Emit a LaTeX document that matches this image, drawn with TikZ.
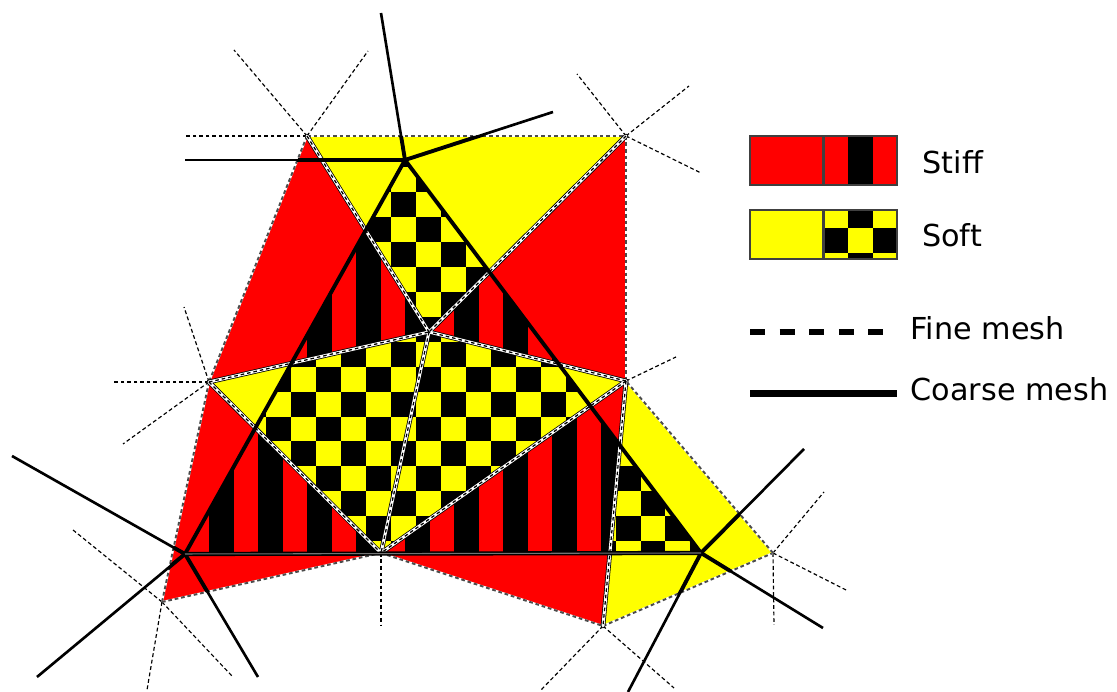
\documentclass[tikz,border=0pt]{standalone}
\usepackage{fontspec}
\setmainfont{DejaVu Sans}
\definecolor{stiffred}{RGB}{255,0,0}
\definecolor{softyellow}{RGB}{255,255,0}
\newcommand{\stripes}{%
  \foreach \i in {0,...,8} {
    \fill[black] (209.3+49*\i,150) rectangle +(24.6,420);
  }
}
\newcommand{\checks}[4]{%
  \foreach \i in {#1,...,#2} {
    \foreach \j in {#3,...,#4} {
      \pgfmathtruncatemacro{\k}{\i+\j}
      \ifodd\k\else
        \fill[black] (391+24.95*\i,192+24.95*\j) rectangle +(24.95,24.95);
      \fi
    }
  }
}
\newcommand{\stiffcells}{(A)--(C)--(E)--cycle (B)--(D)--(E)--cycle (C)--(G)--(F)--cycle (F)--(H)--(D)--cycle}
\newcommand{\softcells}{(A)--(B)--(E)--cycle (C)--(E)--(F)--cycle (E)--(D)--(F)--cycle (D)--(I)--(H)--cycle}
\newcommand{\coarserays}{%
  \foreach \u/\v in {P/p1,P/p2,P/p3,Q/q1,Q/q2,Q/q3,R/r1,R/r2,R/r3} {
    \draw (\u)--(\v);
  }
}
\begin{document}
\begin{tikzpicture}[x=0.01cm, y=-0.01cm,
    stiff/.style={fill=stiffred},
    soft/.style={fill=softyellow},
    innerblack/.style={line width=1.3pt, black, line cap=round},
    innerwhite/.style={line width=0.85pt, white, line cap=round},
    innerdash/.style={line width=0.36pt, black, dash pattern=on 1pt off 0.85pt},
    outerwhite/.style={line width=0.55pt, white},
    outeredge/.style={line width=0.55pt, black!70, dash pattern=on 1.05pt off 0.8pt},
    fineray/.style={line width=0.33pt, black, dash pattern=on 1.1pt off 0.75pt},
    coarseray/.style={line width=0.75pt, black},
    coarsein/.style={line width=1.1pt, black},
    legendbox/.style={draw=black!75, line width=0.35pt},
    legendtext/.style={anchor=base west, inner sep=0pt, font=\fontsize{8.6pt}{10pt}\selectfont}]
    \useasboundingbox (0,0) rectangle (1117,692);
    % fine mesh
    \foreach \n/\x/\y in {A/307/136,B/626/136,C/209/382,D/626/381,E/429/332,F/381/553,G/162/602,H/603/626,I/773/553} {
        \coordinate (\n) at (\x,\y);
    }
    % coarse mesh
    \foreach \n/\x/\y in {P/405/160,Q/185/554,R/701/553,p1/381/13,p2/553/112,p3/185/160,q1/12/456,q2/37/677,q3/258/677,r1/804/449,r2/823/628,r3/628/692} {
        \coordinate (\n) at (\x,\y);
    }
    % free ends of the fine mesh
    \foreach \n/\x/\y in {a1/185/136,a2/234/50,a3/368/51,b1/577/74,b2/689/86,b3/701/173,c1/113/382,c2/184/307,c3/123/444,d1/676/357,f1/381/625,g1/73/530,g2/232/676,g3/147/690,h1/541/690,h2/674/688,i1/824/492,i2/848/591,i3/774/625} {
        \coordinate (\n) at (\x,\y);
    }
    \foreach \u/\v in {A/a1,A/a2,A/a3,B/b1,B/b2,B/b3,C/c1,C/c2,C/c3,D/d1,F/f1,G/g1,G/g2,G/g3,H/h1,H/h2,I/i1,I/i2,I/i3} {
        \draw[fineray] (\u)--(\v);
    }
    \fill[stiff] \stiffcells;
    \fill[soft] \softcells;
    % patterns inside the coarse triangle
    \begin{scope}
        \clip (P)--(Q)--(R)--cycle;
        \begin{scope}
            \clip \stiffcells;
            \stripes
        \end{scope}
        \begin{scope}
            \clip \softcells;
            \checks{-8}{12}{-2}{15}
        \end{scope}
    \end{scope}
    % outer edges
    \foreach \u/\v in {A/B,B/D,A/C,C/G,G/F,F/H,H/I,I/D} {
        \draw[outerwhite] (\u)--(\v);
        \draw[outeredge] (\u)--(\v);
    }
    % inner edges
    \foreach \u/\v in {A/E,B/E,C/E,D/E,E/F,C/F,D/F,D/H} {
        \draw[innerblack] (\u)--(\v);
    }
    \foreach \u/\v in {A/E,B/E,C/E,D/E,E/F,C/F,D/F,D/H} {
        \draw[innerwhite] (\u)--(\v);
    }
    \foreach \u/\v in {A/E,B/E,C/E,D/E,E/F,C/F,D/F,D/H} {
        \draw[innerdash] (\u)--(\v);
    }
    % coarse edges
    \begin{scope}[coarseray]
        \coarserays
    \end{scope}
    \begin{scope}[coarsein]
        \clip \stiffcells \softcells;
        \coarserays
    \end{scope}
    \draw[coarsein] (P)--(Q);
    \draw[coarsein] (P)--(R);
    \draw[line width=1.2pt, black] (Q)--(R);
    \draw[line width=0.3pt, black!55] (Q)--(R);
    % legend
    \fill[stiff] (750,136) rectangle (823,185);
    \draw[legendbox] (750,136) rectangle (823,185);
    \fill[stiff] (824,136) rectangle (897,185);
    \fill[black] (848,136) rectangle (873,185);
    \draw[legendbox] (824,136) rectangle (897,185);
    \fill[soft] (750,210) rectangle (823,259);
    \draw[legendbox] (750,210) rectangle (823,259);
    \fill[soft] (824,210) rectangle (897,259);
    \fill[black] (848,210) rectangle (873,228);
    \fill[black] (824,228) rectangle (848,253);
    \fill[black] (873,228) rectangle (897,253);
    \fill[black] (848,253) rectangle (873,259);
    \draw[legendbox] (824,210) rectangle (897,259);
    \coordinate (fine1) at (750,332);
    \coordinate (fine2) at (885,332);
    \coordinate (coarse1) at (750,393.5);
    \coordinate (coarse2) at (897,393.5);
    \draw[line width=1.45pt, dash pattern=on 4.27pt off 4.15pt] (fine1)--(fine2);
    \draw[line width=2pt] (coarse1)--(coarse2);
    \node[legendtext] (stifflabel) at (922,174) {Stiff};
    \node[legendtext] (softlabel) at (921.5,247) {Soft};
    \node[legendtext] (finelabel) at (910,340) {Fine mesh};
    \node[legendtext] (coarselabel) at (910,401) {Coarse mesh};
\end{tikzpicture}
\end{document}
